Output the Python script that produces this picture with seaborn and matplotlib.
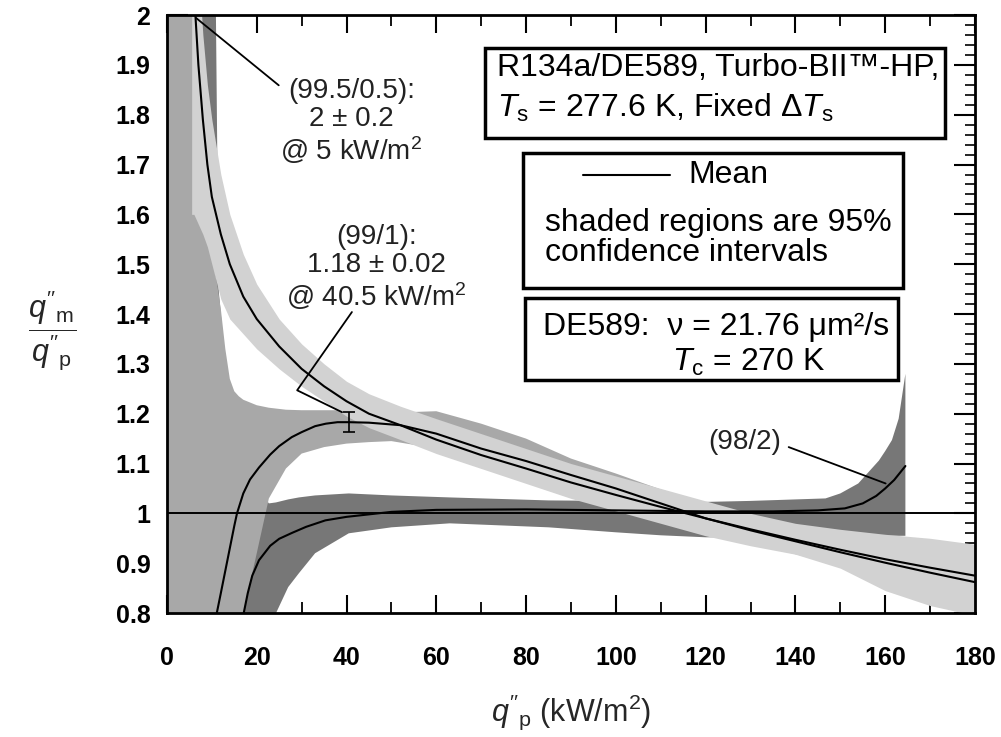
import pandas as pd
import seaborn as sns
import matplotlib.pyplot as plt
from matplotlib.patches import Rectangle
from matplotlib.ticker import MultipleLocator

# mean curves, q''m/q''p against q''p (kW/m2)
a_x = [5.5, 6, 7, 8, 9, 10, 12, 14, 17, 20, 25, 30, 35, 40, 45, 52, 60, 70, 80, 90,
       100, 110, 120, 130, 140, 150, 160, 170, 180]
a_y = [2.14, 2.05, 1.90, 1.79, 1.70, 1.635, 1.56, 1.50, 1.435, 1.39, 1.335, 1.29, 1.255,
       1.225, 1.20, 1.177, 1.148, 1.117, 1.09, 1.062, 1.037, 1.013, 0.99, 0.968, 0.947,
       0.927, 0.908, 0.891, 0.875]

b_x = [11.1, 12, 13, 14, 15, 15.6, 17, 18.5, 20.5, 23, 25, 27.8, 30, 33, 35.4, 38, 40.5,
       45, 52, 60, 70, 80, 90, 100, 110, 120, 130, 140, 150, 160, 170, 180]
b_y = [0.8, 0.84, 0.885, 0.93, 0.975, 1.0, 1.04, 1.068, 1.092, 1.118, 1.135, 1.153, 1.163,
       1.175, 1.18, 1.183, 1.183, 1.182, 1.177, 1.16, 1.13, 1.105, 1.077, 1.05, 1.02, 0.99,
       0.966, 0.944, 0.922, 0.901, 0.881, 0.862]

c_x = [17.1, 18, 19, 20.5, 23, 25, 27.9, 31, 35.3, 40, 45, 50, 60, 80, 100, 120, 135, 145,
       151, 155, 158, 160, 162, 164.5]
c_y = [0.8, 0.84, 0.875, 0.906, 0.935, 0.949, 0.961, 0.973, 0.986, 0.993, 0.998, 1.003,
       1.007, 1.008, 1.006, 1.004, 1.004, 1.006, 1.01, 1.02, 1.035, 1.05, 1.067, 1.095]

# 95% confidence bands
a_lo = [1.60, 1.60, 1.58, 1.56, 1.535, 1.50, 1.43, 1.39, 1.36, 1.33, 1.29, 1.255, 1.225,
        1.195, 1.172, 1.148, 1.12, 1.09, 1.06, 1.03, 1.005, 0.98, 0.955, 0.935, 0.918,
        0.89, 0.845, 0.815, 0.795]
a_hi = [2.2, 2.2, 2.1, 1.96, 1.86, 1.79, 1.68, 1.60, 1.52, 1.46, 1.39, 1.34, 1.30, 1.265,
        1.24, 1.215, 1.19, 1.16, 1.13, 1.10, 1.075, 1.05, 1.025, 1.0, 0.98, 0.968, 0.958,
        0.95, 0.938]

bb_x = [0, 5.5, 6.5, 8, 10, 11, 12, 13, 14, 15, 16, 17, 20, 22.7, 26.5, 30, 35, 40, 45,
        50, 60, 70, 80, 90, 100, 110, 120, 130, 140, 150, 160, 170, 180]
b_lo = [0.6, 0.6, 0.6, 0.6, 0.6, 0.6, 0.6, 0.6, 0.6, 0.68, 0.74, 0.8, 0.92, 1.03, 1.09,
        1.12, 1.133, 1.14, 1.143, 1.145, 1.13, 1.10, 1.075, 1.05, 1.022, 0.992, 0.962,
        0.94, 0.918, 0.895, 0.873, 0.853, 0.833]
b_hi = [2.1, 2.1, 1.75, 1.62, 1.52, 1.47, 1.41, 1.33, 1.27, 1.245, 1.235, 1.228, 1.217,
        1.212, 1.208, 1.207, 1.207, 1.207, 1.204, 1.202, 1.205, 1.18, 1.15, 1.11, 1.08,
        1.048, 1.02, 0.995, 0.972, 0.95, 0.93, 0.91, 0.89]

cb_x = [7.5, 10.8, 11.5, 14, 17, 20, 22.7, 24.3, 27, 29.4, 33, 40.5, 50, 63, 85, 100, 110,
        120, 130, 140, 146.7, 150, 154, 156, 158.6, 160, 161.5, 163, 164.5]
c_lo = [0.6, 0.6, 0.6, 0.6, 0.6, 0.6, 0.7, 0.8, 0.852, 0.88, 0.92, 0.96, 0.972, 0.98,
        0.972, 0.962, 0.956, 0.952, 0.952, 0.955, 0.956, 0.956, 0.955, 0.955, 0.955, 0.955,
        0.955, 0.955, 0.955]
c_hi = [2.1, 2.1, 1.45, 1.2, 1.1, 1.055, 1.02, 1.022, 1.028, 1.032, 1.036, 1.04, 1.036,
        1.032, 1.026, 1.025, 1.024, 1.023, 1.025, 1.028, 1.03, 1.04, 1.06, 1.08, 1.106,
        1.125, 1.147, 1.19, 1.28]

# 99/1 peak with its uncertainty
peak_x, peak_y, peak_err = 40.5, 1.183, 0.02

y_ticks = [0.8, 0.9, 1.0, 1.1, 1.2, 1.3, 1.4, 1.5, 1.6, 1.7, 1.8, 1.9, 2.0]
y_ticklabels = ["0.8", "0.9", "1", "1.1", "1.2", "1.3", "1.4", "1.5", "1.6", "1.7",
                "1.8", "1.9", "2"]

# callout leaders (data coords)
lead_995 = ([6.5, 24.9], [1.994, 1.859])
lead_991 = ([41.2, 29.0, 39.0], [1.404, 1.247, 1.203])
lead_982 = ([138.5, 160.1], [1.133, 1.06])

sns.set_theme(style="ticks")
plt.rcParams["font.family"] = ["Liberation Sans", "DejaVu Sans"]
plt.rcParams["mathtext.fontset"] = "custom"
plt.rcParams["mathtext.rm"] = "Liberation Sans"
plt.rcParams["mathtext.it"] = "Liberation Sans:italic"
plt.rcParams["mathtext.bf"] = "Liberation Sans:bold"

fig = plt.figure(figsize=(10.01, 7.37), dpi=100)
ax = fig.add_axes([0.1668, 0.1682, 0.8072, 0.8114])

ax.fill_between(cb_x, c_lo, c_hi, color="#777777", lw=0, zorder=1)
ax.fill_between(bb_x, b_lo, b_hi, color="#a8a8a8", lw=0, zorder=2)
ax.fill_between(a_x, a_lo, a_hi, color="#d2d2d2", lw=0, zorder=3)

ax.axhline(1.0, color="black", lw=1.4, zorder=4)

means = pd.concat([
    pd.DataFrame({"q": a_x, "ratio": a_y, "mix": "99.5/0.5"}),
    pd.DataFrame({"q": b_x, "ratio": b_y, "mix": "99/1"}),
    pd.DataFrame({"q": c_x, "ratio": c_y, "mix": "98/2"}),
])
sns.lineplot(data=means, x="q", y="ratio", units="mix", estimator=None,
             color="black", lw=1.5, ax=ax, zorder=5)
ax.errorbar([peak_x], [peak_y], yerr=[peak_err], color="black", lw=1.2,
            capsize=4, capthick=1.2, zorder=6)

txt = "#222222"
ax.plot(*lead_995, color="black", lw=1.3, zorder=6)
ax.plot(*lead_991, color="black", lw=1.3, zorder=6)
ax.plot(*lead_982, color="black", lw=1.3, zorder=6)
ax.text(41.1, 1.785, "(99.5/0.5):\n2 ± 0.2\n@ 5 kW/m$^2$", ha="center", va="center",
        multialignment="center", fontsize=20, linespacing=1.1, color=txt)
ax.text(46.6, 1.492, "(99/1):\n1.18 ± 0.02\n@ 40.5 kW/m$^2$", ha="center", va="center",
        multialignment="center", fontsize=20, linespacing=1.1, color=txt)
ax.text(128.7, 1.143, "(98/2)", ha="center", va="center", fontsize=20, color=txt)

# boxed notes (axes fraction)
for x0, y0, w, h in [(0.3936, 0.7943, 0.5693, 0.1505),
                     (0.4406, 0.5435, 0.4703, 0.2257),
                     (0.4431, 0.3896, 0.4616, 0.1372)]:
    ax.add_patch(Rectangle((x0, y0), w, h, transform=ax.transAxes, fc="white",
                           ec="black", lw=2.5, zorder=7))
tk = dict(transform=ax.transAxes, fontsize=23, va="center", ha="left", zorder=8,
          color="black")
ax.text(0.4084, 0.9114, "R134a/DE589, Turbo-BII™-HP,", **tk)
ax.text(0.4084, 0.8445, r"$T_\mathrm{s}$ = 277.6 K, Fixed Δ$T_\mathrm{s}$", **tk)
ax.plot([0.5149, 0.6225], [0.7324, 0.7324], transform=ax.transAxes, color="black",
        lw=1.5, zorder=8)
ax.text(0.6448, 0.7324, "Mean", **tk)
ax.text(0.4678, 0.6522, "shaded regions are 95%", **tk)
ax.text(0.4678, 0.6020, "confidence intervals", **tk)
ax.text(0.4653, 0.4783, "DE589:  ν = 21.76 μm²/s", **tk)
ax.text(0.625, 0.4197, r"$T_\mathrm{c}$ = 270 K", **tk)

ax.set_xlim(0, 180)
ax.set_ylim(0.8, 2.0)
ax.xaxis.set_major_locator(MultipleLocator(20))
ax.xaxis.set_minor_locator(MultipleLocator(10))
ax.set_yticks(y_ticks)
ax.set_yticklabels(y_ticklabels)
ax.yaxis.set_minor_locator(MultipleLocator(0.02))
ax.tick_params(which="both", direction="in", top=True, right=True, colors="black")
ax.xaxis.set_tick_params(which="major", length=13, width=1.5, pad=24)
ax.xaxis.set_tick_params(which="minor", length=8, width=1.3)
ax.yaxis.set_tick_params(which="major", length=15, width=1.5, pad=12)
ax.yaxis.set_tick_params(which="minor", length=7, width=1.2)
for lab in ax.get_xticklabels() + ax.get_yticklabels():
    lab.set_fontsize(18)
    lab.set_fontweight("bold")
for s in ax.spines.values():
    s.set_linewidth(2)
    s.set_color("black")
    s.set_zorder(9)

ax.set_xlabel(r"$q''_\mathrm{p}$ (kW/m$^2$)", fontsize=22)
ax.xaxis.set_label_coords(0.5, -0.1656)
ax.xaxis.label.set_va("center")
ax.set_ylabel(r"$\dfrac{q''_\mathrm{m}}{q''_\mathrm{p}}$", fontsize=22, rotation=0)
ax.yaxis.set_label_coords(-0.142, 0.473)
ax.yaxis.label.set_va("center")
ax.yaxis.label.set_ha("center")

fig.savefig("out.png", dpi=100)
